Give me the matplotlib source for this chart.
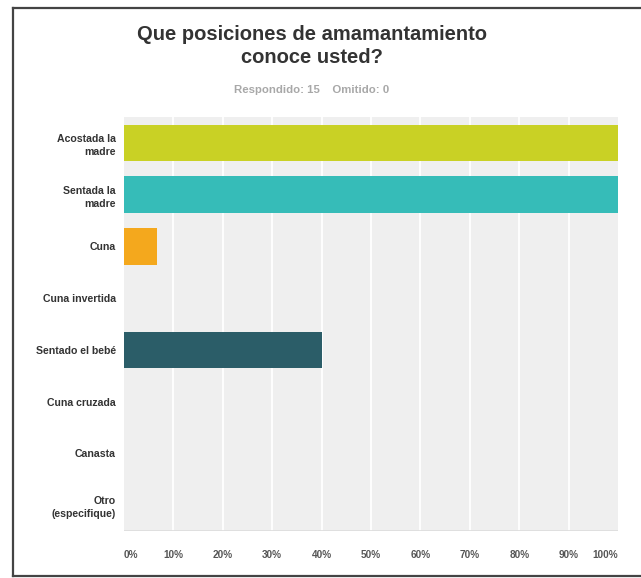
import matplotlib
matplotlib.use("Agg")
import matplotlib.pyplot as plt
from matplotlib.lines import Line2D

categories = [
    "Acostada la\nmadre",
    "Sentada la\nmadre",
    "Cuna",
    "Cuna invertida",
    "Sentado el bebé",
    "Cuna cruzada",
    "Canasta",
    "Otro\n(especifique)",
]
percentages = [100.0, 100.0, 6.67, 0.0, 40.0, 0.0, 0.0, 0.0]
bar_colors = ["#c9d125", "#36bcb8", "#f4a81d", "#d25f90", "#2b5d68", "#008fbe", "#ee7676", "#a1d184"]
x_ticks = [0, 10, 20, 30, 40, 50, 60, 70, 80, 90, 100]
x_tick_labels = [f"{t}%" for t in x_ticks]

title = "Que posiciones de amamantamiento\nconoce usted?"
subtitle = "Respondido: 15    Omitido: 0"

plt.rcParams["font.family"] = ["Liberation Sans", "DejaVu Sans"]

W, H = 641, 578
fig = plt.figure(figsize=(W / 100, H / 100), dpi=100)
fig.patch.set_facecolor("white")

# plot area in pixel coordinates of the reference
left, right, top, bottom = 124, 618, 117, 531
ax = fig.add_axes([left / W, 1 - bottom / H, (right - left) / W, (bottom - top) / H])
ax.set_facecolor("#efefef")

y_pos = list(range(len(categories)))
ax.barh(y_pos, percentages, height=0.71, color=bar_colors, zorder=3)

ax.set_xlim(0, 100)
ax.set_ylim(len(categories) - 0.5, -0.5)
ax.set_xticks(x_ticks)
ax.set_xticklabels(x_tick_labels)
ax.set_yticks(y_pos)
ax.set_yticklabels(categories)

for t in x_ticks[1:-1]:
    ax.axvline(t, color="white", lw=1.3, zorder=1)

for s in ax.spines.values():
    s.set_visible(False)
ax.axhline(len(categories) - 0.5, color="#dcdcdc", lw=1.2, zorder=2)

ax.tick_params(axis="both", length=0)
ax.tick_params(axis="x", pad=14, labelsize=7.2, labelcolor="#555555")
ax.tick_params(axis="y", pad=6, labelsize=7.6, labelcolor="#333333")
for lbl in ax.get_yticklabels():
    lbl.set_fontweight("bold")
    lbl.set_linespacing(1.4)
xl = ax.get_xticklabels()
xl[0].set_horizontalalignment("left")
xl[-1].set_horizontalalignment("right")
for lbl in xl:
    lbl.set_fontweight("bold")

fig.text(312 / W, 1 - 46 / H, title, ha="center", va="center", fontsize=14.5,
         fontweight="bold", color="#333333", linespacing=1.3)
fig.text(312 / W, 1 - 90 / H, subtitle, ha="center", va="center", fontsize=8.2,
         fontweight="bold", color="#a8a8a8")

# frame around the screenshot (left, top, bottom only)
border = dict(color="#444444", lw=1.6, transform=fig.transFigure)
fig.add_artist(Line2D([12.5 / W, 12.5 / W], [1 - 7.5 / H, 1 - 575.5 / H], **border))
fig.add_artist(Line2D([12.5 / W, 1.0], [1 - 7.5 / H, 1 - 7.5 / H], **border))
fig.add_artist(Line2D([12.5 / W, 1.0], [1 - 575.5 / H, 1 - 575.5 / H], **border))

fig.savefig("out.png", dpi=100, facecolor="white")
